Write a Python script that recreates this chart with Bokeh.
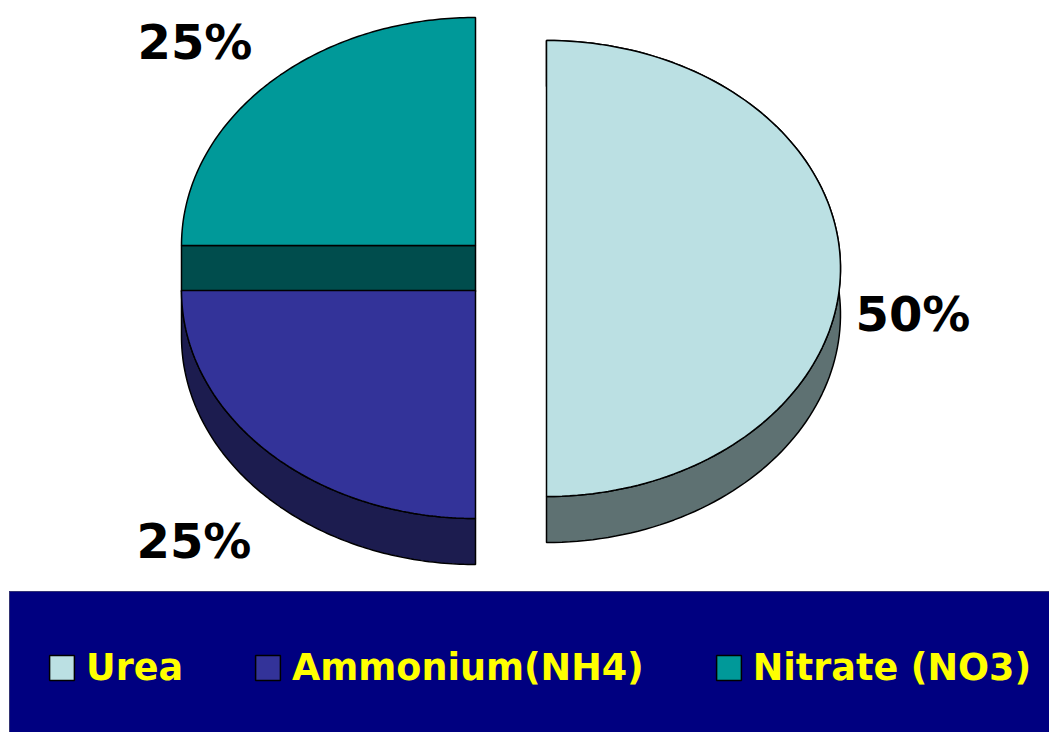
import numpy as np
from bokeh.embed import file_html
from bokeh.models import Legend, LegendItem
from bokeh.plotting import figure
from bokeh.resources import INLINE
from bokeh.core.properties import value

# chart data
categories = ["Urea", "Ammonium(NH4)", "Nitrate (NO3)"]
shares = [50, 25, 25]
share_labels = ["50%", "25%", "25%"]
face_colors = ["#BBE0E3", "#333399", "#009999"]
side_colors = ["#5E7172", "#1C1C4F", "#004D4D"]

# layout (screen pixels inside the figure)
W, H = 1049, 732
RX, RY, DEPTH = 294, 228, 46
centers = [(546, 268), (475, 290), (475, 245)]
label_xy = [(855, 313), (136, 540), (137, 41)]

p = figure(width=W, height=H, x_range=(0, W), y_range=(H, 0),
           toolbar_location=None, output_backend="svg", min_border=0,
           border_fill_color="white", background_fill_color="white")
p.axis.visible = False
p.grid.visible = False
p.outline_line_color = None

# cumulative angles, clockwise from 12 o'clock
edges = np.cumsum([0] + shares) / sum(shares) * 2 * np.pi
faces = []
for i, (cx, cy) in enumerate(centers):
    t = np.linspace(edges[i], edges[i + 1], 120)
    ax = cx + RX * np.sin(t)
    ay = cy - RY * np.cos(t)
    # side wall: the part of the rim that faces the viewer
    if i == 2:
        sx = [cx - RX, cx, cx, cx - RX]
        sy = [cy, cy, cy + DEPTH, cy + DEPTH]
    else:
        sx = list(ax) + list(ax[::-1])
        sy = list(ay) + list(ay[::-1] + DEPTH)
    p.patch(sx, sy, fill_color=side_colors[i], line_color="black", line_width=1.5)
    faces.append((list(ax) + [cx], list(ay) + [cy]))

items = []
for i, (fx, fy) in enumerate(faces):
    r = p.patch(fx, fy, fill_color=face_colors[i], line_color="black", line_width=1.5)
    items.append(LegendItem(label=value(categories[i]), renderers=[r]))

p.text([q[0] for q in label_xy], [q[1] for q in label_xy], text=share_labels,
       text_font=value("DejaVu Sans"), text_font_style="bold", text_font_size="48px",
       text_color="black", text_align="left", text_baseline="alphabetic")

legend = Legend(items=items, orientation="horizontal", location=(9, -11),
                background_fill_color="#000080", background_fill_alpha=1,
                border_line_color="#666666", border_line_width=1,
                padding=36, margin=0, spacing=69,
                glyph_width=31, glyph_height=31, label_standoff=9,
                label_height=78,
                label_text_color="#FFFF00", label_text_font="DejaVu Sans",
                label_text_font_style="bold", label_text_font_size="36.5px")
p.add_layout(legend, "center")

open("out.html", "w").write(file_html(p, INLINE))
